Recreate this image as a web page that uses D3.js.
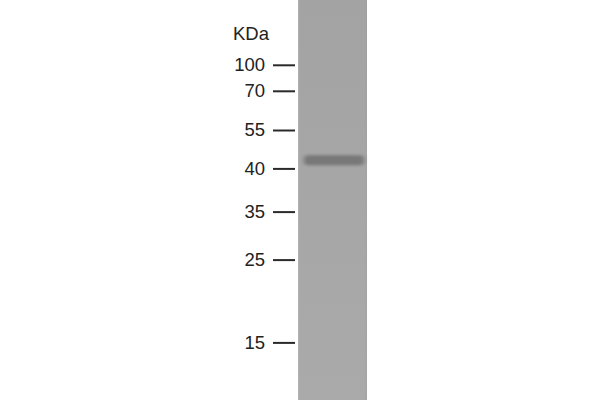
<!DOCTYPE html>
<html>
<head>
<script src="https://d3js.org/d3.v7.min.js"></script>
<style>
  body { margin: 0; background: #fff; }
  svg { display: block; }
  .tick text { font-family: "Liberation Sans", Arial, sans-serif; font-size: 18.5px; fill: #222; }
</style>
</head>
<body>
<script>
// marker ladder (kDa) and where each one ran (fraction of gel height)
var markerKDa = [100, 70, 55, 40, 35, 25, 15];
var markerRf = [0.162, 0.227, 0.325, 0.421, 0.529, 0.649, 0.856];
// protein band in the sample lane
var bandKDa = [42.8];

var width = 600, height = 400;
var laneX = 298, laneW = 69;

var svg = d3.select("body").append("svg")
    .attr("width", width)
    .attr("height", height);

// kDa -> relative mobility -> pixel
var mobility = d3.scaleLog().domain(markerKDa).range(markerRf);
var y = d3.scaleLinear().domain([0, 1]).range([0, height]);

var defs = svg.append("defs");
var grad = defs.append("linearGradient")
    .attr("id", "laneGrad")
    .attr("x1", 0).attr("y1", 0).attr("x2", 0).attr("y2", 1);
grad.append("stop").attr("offset", "0%").attr("stop-color", "#a3a3a3");
grad.append("stop").attr("offset", "100%").attr("stop-color", "#aaaaaa");

var hgrad = defs.append("linearGradient")
    .attr("id", "laneEdge")
    .attr("x1", 0).attr("y1", 0).attr("x2", 1).attr("y2", 0);
hgrad.append("stop").attr("offset", "0%").attr("stop-color", "#bdbdbd").attr("stop-opacity", 0.6);
hgrad.append("stop").attr("offset", "4%").attr("stop-color", "#a6a6a6").attr("stop-opacity", 0);
hgrad.append("stop").attr("offset", "96%").attr("stop-color", "#a6a6a6").attr("stop-opacity", 0);
hgrad.append("stop").attr("offset", "100%").attr("stop-color", "#9a9a9a").attr("stop-opacity", 0.5);

defs.append("filter").attr("id", "blur")
    .attr("x", "-20%").attr("y", "-100%").attr("width", "140%").attr("height", "300%")
  .append("feGaussianBlur").attr("stdDeviation", "2 1.6");

// gel lane
svg.append("rect")
    .attr("x", laneX).attr("y", 0)
    .attr("width", laneW).attr("height", height)
    .attr("fill", "url(#laneGrad)");
svg.append("rect")
    .attr("x", laneX).attr("y", 0)
    .attr("width", laneW).attr("height", height)
    .attr("fill", "url(#laneEdge)");

// band
svg.selectAll("rect.band")
    .data(bandKDa)
    .enter().append("rect")
    .attr("class", "band")
    .attr("x", laneX + 6)
    .attr("y", function(d) { return y(mobility(d)) - 5; })
    .attr("width", laneW - 9)
    .attr("height", 10)
    .attr("rx", 4)
    .attr("fill", "#6f6f6f")
    .attr("opacity", 0.85)
    .attr("filter", "url(#blur)");

// marker axis
var axis = d3.axisLeft(y)
    .tickValues(markerKDa.map(function(d) { return mobility(d); }))
    .tickFormat(function(d, i) { return markerKDa[i]; })
    .tickSize(22)
    .tickPadding(8);

var gAxis = svg.append("g")
    .attr("transform", "translate(" + (laneX - 3) + ",0)")
    .call(axis);
gAxis.select(".domain").remove();
gAxis.selectAll(".tick line")
    .attr("stroke", "#2a2a2a")
    .attr("stroke-width", 2);

svg.append("text")
    .attr("x", 233)
    .attr("y", 40)
    .attr("font-family", "Liberation Sans, Arial, sans-serif")
    .attr("font-size", 18.5)
    .attr("fill", "#222")
    .text("KDa");
</script>
</body>
</html>
